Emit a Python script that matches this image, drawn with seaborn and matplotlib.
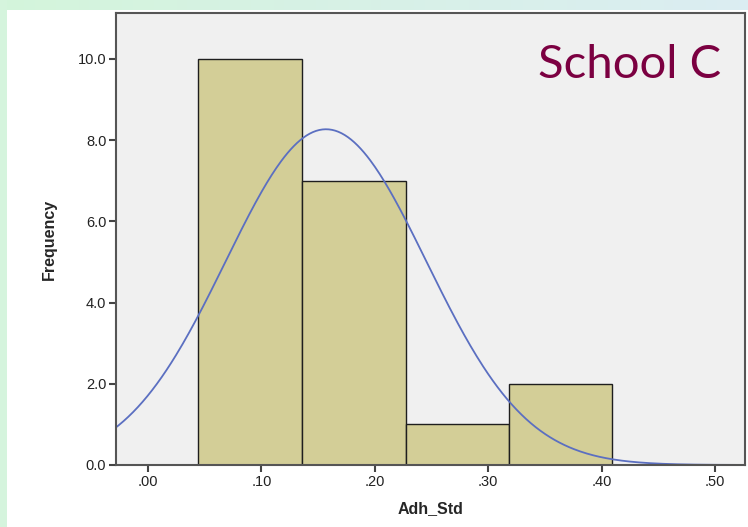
import numpy as np
import pandas as pd
import matplotlib
matplotlib.use("Agg")
import matplotlib.pyplot as plt
import seaborn as sns

# Histogram of Adh_Std for School C (bin edges)
bin_edges = [0.0441, 0.1358, 0.2275, 0.3185, 0.4095]
counts = [10, 7, 1, 2]
# fitted normal curve
mean_val = 0.157
sd_val = 0.0885
x_ticks = [0.0, 0.1, 0.2, 0.3, 0.4, 0.5]
x_tick_labels = [".00", ".10", ".20", ".30", ".40", ".50"]
y_ticks = [0, 2, 4, 6, 8, 10]
y_tick_labels = ["0.0", "2.0", "4.0", "6.0", "8.0", "10.0"]

centers = [(a + b) / 2 for a, b in zip(bin_edges[:-1], bin_edges[1:])]
df = pd.DataFrame({"Adh_Std": centers, "n": counts})

sns.set_style("white")
plt.rcParams["font.family"] = ["Liberation Sans", "DejaVu Sans"]

fig = plt.figure(figsize=(7.48, 5.27), dpi=100)

# slide-like border: green strip at left, gradient strip at top
bg = fig.add_axes([0, 0, 1, 1], zorder=-5)
bg.axis("off")
grad = np.linspace(0, 1, 256)[None, :, None]
c0 = np.array([0.83, 0.96, 0.86])
c1 = np.array([0.86, 0.93, 0.95])
bg.imshow(c0 + (c1 - c0) * grad, extent=(0, 748, 10, 0), aspect="auto")
bg.add_patch(plt.Rectangle((0, 0), 7, 527, color="#d5f4dd", lw=0))
bg.set_xlim(0, 748)
bg.set_ylim(527, 0)

ax = fig.add_axes([116 / 748, 62 / 527, 629 / 748, 452 / 527])
ax.set_facecolor("#f0f0f0")

sns.histplot(data=df, x="Adh_Std", weights="n", bins=bin_edges, ax=ax,
             color="#d3ce97", alpha=1, edgecolor="#1e1e1e", linewidth=1.0)

xs = np.linspace(-0.03, 0.53, 400)
bw = bin_edges[1] - bin_edges[0]
ys = sum(counts) * bw / (sd_val * np.sqrt(2 * np.pi)) * np.exp(-0.5 * ((xs - mean_val) / sd_val) ** 2)
sns.lineplot(x=xs, y=ys, ax=ax, color="#5b6fc1", linewidth=1.3)

ax.set_xlim(-0.0282, 0.5265)
ax.set_ylim(0, 11.13)
ax.set_xticks(x_ticks)
ax.set_xticklabels(x_tick_labels, fontsize=10.5, color="#222222")
ax.set_yticks(y_ticks)
ax.set_yticklabels(y_tick_labels, fontsize=10.5, color="#222222")
ax.tick_params(axis="both", direction="out", length=5, width=1.5, color="#444444", pad=2,
               bottom=True, left=True)
for s in ax.spines.values():
    s.set_color("#555555")
    s.set_linewidth(1.5)

ax.set_xlabel("Adh_Std", fontsize=11.5, fontweight="bold", labelpad=9)
ax.set_ylabel("Frequency", fontsize=11.5, fontweight="bold", labelpad=15)

ax.text(0.962, 0.885, "School C", transform=ax.transAxes, ha="right", va="center",
        fontsize=34, color="#7b0041", family=["Lato", "DejaVu Sans"])

fig.savefig("out.png", dpi=100)
